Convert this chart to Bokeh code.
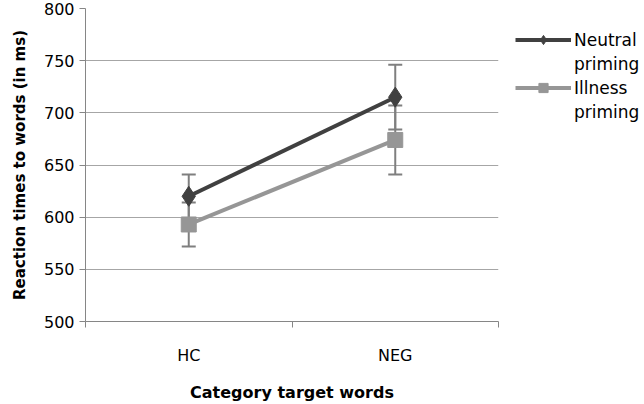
from bokeh.plotting import figure
from bokeh.models import (ColumnDataSource, FixedTicker, Legend, LegendItem, Whisker, Range1d)
from bokeh.embed import file_html
from bokeh.resources import INLINE

categories = ["HC", "NEG"]
neutral_rt = [620, 715]
neutral_err = [21, 31]
illness_rt = [593, 674]
illness_err = [21, 33]
y_ticks = [500, 550, 600, 650, 700, 750, 800]
series_names = [("Neutral", "priming"), ("Illness", "priming")]

FONT = "DejaVu Sans"
xpos = [i + 0.5 for i in range(len(categories))]

p = figure(frame_width=413, frame_height=313, output_backend="svg", toolbar_location=None,
           x_range=Range1d(0, len(categories)), y_range=Range1d(500, 800),
           min_border_left=85, min_border_top=8, min_border_bottom=67, min_border_right=0)
p.outline_line_color = None
p.background_fill_color = "white"

p.xgrid.grid_line_color = None
p.ygrid.grid_line_color = "#a6a6a6"
p.ygrid.grid_line_width = 1
p.ygrid.ticker = FixedTicker(ticks=y_ticks)

p.yaxis.ticker = FixedTicker(ticks=y_ticks)
p.yaxis.axis_line_color = "#868686"
p.yaxis.major_tick_line_color = "#868686"
p.yaxis.major_tick_out = 6
p.yaxis.major_tick_in = 0
p.yaxis.minor_tick_line_color = None
p.yaxis.major_label_text_font = FONT
p.yaxis.major_label_text_font_size = "16px"
p.yaxis.major_label_text_color = "black"
p.yaxis.major_label_standoff = 5
p.yaxis.axis_label = "Reaction times to words (in ms)"
p.yaxis.axis_label_text_font = FONT
p.yaxis.axis_label_text_font_size = "15px"
p.yaxis.axis_label_text_font_style = "bold"
p.yaxis.axis_label_text_color = "black"
p.yaxis.axis_label_standoff = 12

p.xaxis.ticker = FixedTicker(ticks=xpos, minor_ticks=list(range(len(categories) + 1)))
p.xaxis.major_label_overrides = {x: c for x, c in zip(xpos, categories)}
p.xaxis.axis_line_color = "#868686"
p.xaxis.major_tick_line_color = None
p.xaxis.minor_tick_line_color = "#868686"
p.xaxis.minor_tick_out = 6
p.xaxis.minor_tick_in = 0
p.xaxis.major_label_standoff = 18
p.xaxis.major_label_text_font = FONT
p.xaxis.major_label_text_font_size = "16px"
p.xaxis.major_label_text_color = "black"
p.xaxis.axis_label = "Category target words"
p.xaxis.axis_label_text_font = FONT
p.xaxis.axis_label_text_font_size = "16px"
p.xaxis.axis_label_text_font_style = "bold"
p.xaxis.axis_label_text_color = "black"
p.xaxis.axis_label_standoff = 15

src_n = ColumnDataSource(dict(x=xpos, y=neutral_rt,
                              lo=[v - e for v, e in zip(neutral_rt, neutral_err)],
                              hi=[v + e for v, e in zip(neutral_rt, neutral_err)]))
src_i = ColumnDataSource(dict(x=xpos, y=illness_rt,
                              lo=[v - e for v, e in zip(illness_rt, illness_err)],
                              hi=[v + e for v, e in zip(illness_rt, illness_err)]))

dark = "#404040"
light = "#969696"
errc = "#7f7f7f"

for src in (src_n, src_i):
    w = Whisker(base="x", lower="lo", upper="hi", source=src, line_color=errc, line_width=2)
    w.upper_head.size = 14
    w.lower_head.size = 14
    w.upper_head.line_color = errc
    w.lower_head.line_color = errc
    w.upper_head.line_width = 2
    w.lower_head.line_width = 2
    p.add_layout(w)

l1 = p.line("x", "y", source=src_n, line_color=dark, line_width=4)
m1 = p.scatter("x", "y", source=src_n, marker="diamond", size=20, fill_color=dark, line_color=dark)
l2 = p.line("x", "y", source=src_i, line_color=light, line_width=4)
m2 = p.scatter("x", "y", source=src_i, marker="square", size=15, fill_color=light, line_color=light)

# invisible renderer used for the second line of each legend label
blank = p.line(x=[], y=[], line_alpha=0)

legend = Legend(items=[LegendItem(label=series_names[0][0], renderers=[l1, m1]),
                       LegendItem(label=series_names[0][1], renderers=[blank]),
                       LegendItem(label=series_names[1][0], renderers=[l2, m2]),
                       LegendItem(label=series_names[1][1], renderers=[blank])],
                location=(17, 198), border_line_color=None, background_fill_alpha=0,
                glyph_width=56, glyph_height=23, label_text_font=FONT, label_text_font_size="17px",
                label_text_color="black", label_height=23,
                label_standoff=3, spacing=1, padding=0, margin=0)
p.add_layout(legend, "right")

open("out.html", "w").write(file_html(p, INLINE))
